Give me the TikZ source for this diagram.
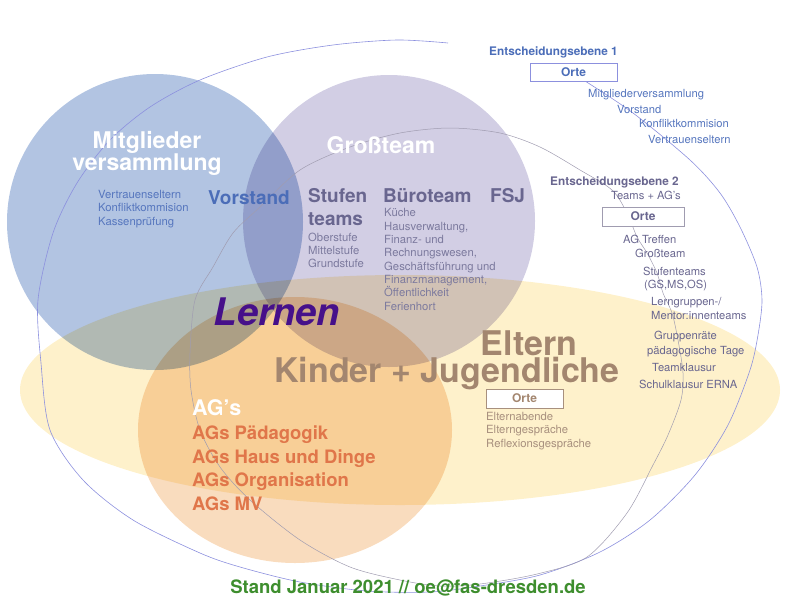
\documentclass[tikz,border=0pt]{standalone}
\usepackage{fontspec}
\setmainfont{TeX Gyre Heros}

\definecolor{mvblue}{HTML}{B2C4E2}
\definecolor{gtpurple}{HTML}{D2CEE4}
\definecolor{elyellow}{HTML}{FEF1CB}
\definecolor{agorange}{HTML}{F9DCBE}
\definecolor{ebeneblue}{HTML}{8C90DE}
\definecolor{ebenegrey}{HTML}{A09CB0}
\definecolor{bluetext}{HTML}{4B6DB8}
\definecolor{bluelight}{HTML}{5676BE}
\definecolor{teamgrey}{HTML}{69668F}
\definecolor{teamlight}{HTML}{7C7A9E}
\definecolor{lernpurple}{HTML}{46108A}
\definecolor{elbrown}{HTML}{A3866F}
\definecolor{ellight}{HTML}{A8907E}
\definecolor{agred}{HTML}{E0764A}
\definecolor{standgreen}{HTML}{3E8E2E}

\tikzset{
    bigwhite/.style={text=white, font=\bfseries\fontsize{23}{22}\selectfont, align=center, anchor=base, inner sep=0pt},
    teamhead/.style={text=teamgrey, font=\bfseries\fontsize{19}{23}\selectfont, align=left, anchor=base west, inner sep=0pt},
    sublist/.style={font=\fontsize{11.3}{13.3}\selectfont, align=left, anchor=base west, inner sep=0pt},
    bigbrown/.style={text=elbrown, font=\bfseries\fontsize{34}{36}\selectfont, anchor=base, inner sep=0pt},
    agline/.style={text=agred, font=\bfseries\fontsize{18.5}{23.5}\selectfont, align=left, anchor=base west, inner sep=0pt},
    ortebox/.style={draw, fill=white, line width=0.7pt, minimum height=19pt, inner sep=0pt, font=\bfseries\fontsize{12}{14}\selectfont},
    ebenehead/.style={font=\bfseries\fontsize{11.8}{14}\selectfont, anchor=base, inner sep=0pt},
    ebeneitem/.style={font=\fontsize{11.2}{13}\selectfont, anchor=base west, inner sep=0pt}
}

\begin{document}
\begin{tikzpicture}[x=1pt,y=-1pt]
    \useasboundingbox (0,0) rectangle (800,600);

    \begin{scope}[blend group=multiply]
        \fill[mvblue] (155,222) circle [radius=148];
        \fill[gtpurple] (389,221) circle [radius=146];
        \fill[elyellow] (400,390) ellipse [x radius=380, y radius=115];
        \fill[agorange] (295,430) ellipse [x radius=157, y radius=133];
    \end{scope}

    \draw[ebeneblue, line width=0.6pt] plot[smooth] coordinates {
        (585,81) (633,113) (690,160) (720,193) (740,227) (757,267) (762,300)
        (758,335) (750,370) (728,425) (695,475) (650,520) (600,552) (540,575)
        (480,586) (430,592) (367,591) (300,582) (240,567) (200,553) (133,520)
        (83,480) (50,430) (41,363) (38,300) (53,233) (77,183) (110,140)
        (150,107) (200,80) (267,57) (333,45) (397,40) (448,43)};
    \draw[ebenegrey, line width=0.5pt] plot[smooth cycle] coordinates {
        (400,133) (450,128) (500,133) (540,147) (580,170) (612,190) (627,213)
        (637,237) (647,253) (657,273) (663,293) (672,313) (678,340) (683,373)
        (681,400) (668,435) (653,465) (627,513) (587,557) (537,574) (480,584)
        (440,586) (400,580) (350,567) (300,540) (250,500) (220,467) (200,430)
        (191,390) (190,353) (195,300) (213,267) (233,233) (260,207) (300,170)
        (350,147)};

    \node[bigwhite] at (147,170) (mv) {Mitglieder\\versammlung};
    \node[sublist, text=bluelight] at (98,225) (mvlist) {Vertrauenseltern\\Konfliktkommision\\Kassenprüfung};
    \node[teamhead, text=bluetext] at (208,204) (vs) {Vorstand};

    \node[bigwhite] at (381,153) (gt) {Großteam};
    \node[teamhead] at (308,225.5) (st) {Stufen\\teams};
    \node[sublist, text=teamlight, font=\fontsize{11.3}{12.6}\selectfont] at (308,267) (stlist) {Oberstufe\\Mittelstufe\\Grundstufe};
    \node[teamhead] at (383,202) (bt) {Büroteam};
    \node[teamhead] at (490,202) (fsj) {FSJ};
    \node[sublist, text=teamlight] at (384,310) (btlist) {Küche\\Hausverwaltung,\\Finanz- und\\Rechnungswesen,\\Geschäftsführung und\\Finanzmanagement,\\Öffentlichkeit\\Ferienhort};

    \node[text=lernpurple, font=\bfseries\itshape\fontsize{38}{40}\selectfont, anchor=base, inner sep=0pt] at (277,325) (ln) {Lernen};

    \node[bigbrown] at (529,355) (el) {Eltern};
    \node[bigbrown] at (447,382) (kj) {Kinder + Jugendliche};
    \node[ortebox, draw=ellight, text=elbrown, minimum width=77pt] at (524.5,398.5) (o3) {Orte};
    \node[sublist, text=ellight] at (486,447) (ellist) {Elternabende\\Elterngespräche\\Reflexionsgespräche};

    \node[bigwhite, anchor=base west, font=\bfseries\fontsize{21.5}{22}\selectfont] at (192,415) (ag) {AG’s};
    \node[agline] at (192,510) (aglist) {AGs Pädagogik\\AGs Haus und Dinge\\AGs Organisation\\AGs MV};

    \node[ebenehead, text=bluetext] at (553.5,55) (e1) {Entscheidungsebene 1};
    \node[ortebox, draw=ebeneblue, text=bluetext, minimum width=87pt, minimum height=18pt] at (573.5,72) (o1) {Orte};
    \node[ebeneitem, text=bluelight] at (588,97) (m1) {Mitgliederversammlung};
    \node[ebeneitem, text=bluelight] at (617,113) (v1) {Vorstand};
    \node[ebeneitem, text=bluelight] at (639,127) (k1) {Konfliktkommision};
    \node[ebeneitem, text=bluelight] at (648,143) (t1) {Vertrauenseltern};

    \node[ebenehead, text=teamgrey] at (614.5,185) (e2) {Entscheidungsebene 2};
    \node[ebeneitem, text=teamgrey, anchor=base east] at (681,199) (ta) {Teams + AG’s};
    \node[ortebox, draw=ebenegrey, text=teamgrey, minimum width=82pt] at (643,216.5) (o2) {Orte};
    \node[ebeneitem, text=teamgrey] at (623,243) (a2) {AG Treffen};
    \node[ebeneitem, text=teamgrey] at (635,257) (g2) {Großteam};
    \node[ebeneitem, text=teamgrey] at (643,275) (s2) {Stufenteams};
    \node[ebeneitem, text=teamgrey] at (644,288) (s2b) {(GS,MS,OS)};
    \node[ebeneitem, text=teamgrey] at (651,305) (l2) {Lerngruppen-/};
    \node[ebeneitem, text=teamgrey] at (651,319) (l2b) {Mentor:innenteams};
    \node[ebeneitem, text=teamgrey] at (654,339) (r2) {Gruppenräte};
    \node[ebeneitem, text=teamgrey] at (647,354) (p2) {pädagogische Tage};
    \node[ebeneitem, text=teamgrey] at (652,371) (k2) {Teamklausur};
    \node[ebeneitem, text=teamgrey] at (639,388) (sk2) {Schulklausur ERNA};

    \node[text=standgreen, font=\bfseries\fontsize{18.5}{20}\selectfont, anchor=base, inner sep=0pt] at (408,593) (stand) {Stand Januar 2021 // oe@fas-dresden.de};
\end{tikzpicture}
\end{document}
